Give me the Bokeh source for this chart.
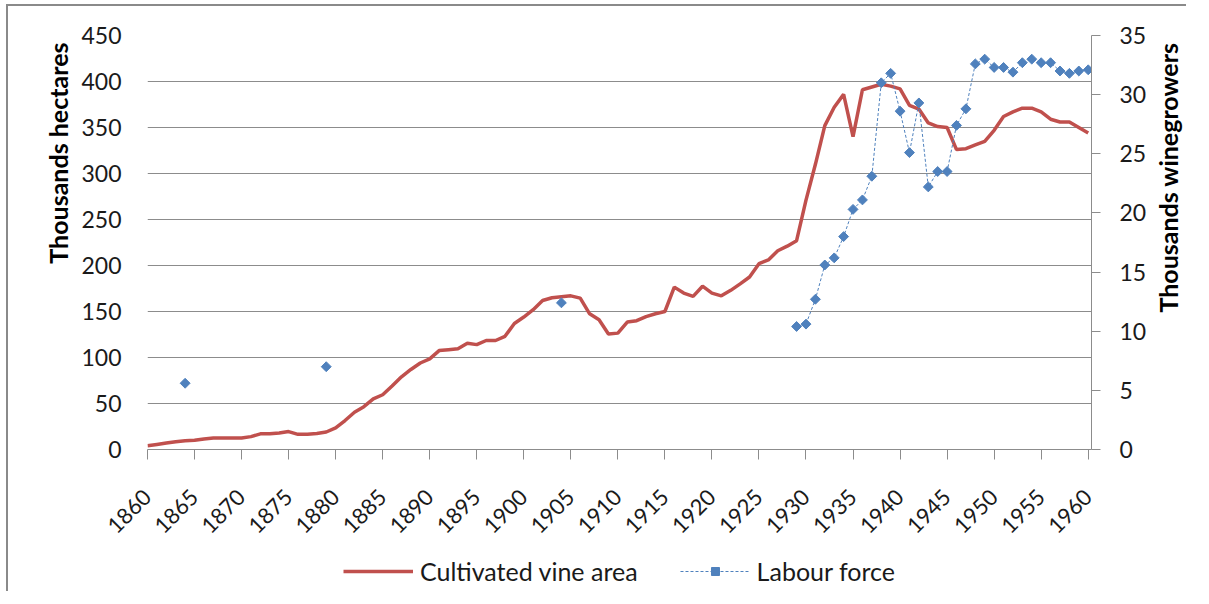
import math
from bokeh.plotting import figure
from bokeh.layouts import row, column
from bokeh.models import (Range1d, LinearAxis, FixedTicker, Legend, LegendItem, Title)
from bokeh.embed import file_html
from bokeh.resources import INLINE

# ---------------- data ----------------
years = list(range(1860, 1961))

vine_area = [
    4, 5.5, 7, 8.5, 9.5, 10, 11.5, 12.5, 12.5, 12.5,            # 1860-1869
    12.5, 14, 17, 17, 18, 19.5, 16.5, 16.5, 17.5, 19,           # 1870-1879
    23.5, 31.5, 40.5, 46.5, 55, 59.5, 69, 79, 87, 94,           # 1880-1889
    98.5, 107.5, 108.5, 109.5, 115.5, 114, 118.5, 118.5, 123, 137,  # 1890-1899
    144, 152, 162, 165, 166, 167, 164.5, 147.5, 141, 125.5,     # 1900-1909
    126.5, 138.5, 140, 144.5, 147.5, 150, 176.5, 170, 166.5, 177.5,  # 1910-1919
    170, 167, 173, 180, 187.5, 202, 206, 216, 221, 227,         # 1920-1929
    271, 310, 352, 372, 386, 340, 391, 394, 397, 395,           # 1930-1939
    392, 374, 370, 355, 351, 350, 326, 327, 331, 335,           # 1940-1949
    347, 362, 367, 371, 371, 367, 359, 356, 356, 350,           # 1950-1959
    344,                                                        # 1960
]

labour_years = [1864, 1879, 1904] + list(range(1929, 1961))
labour_force = [
    5.6, 7.0, 12.4,
    10.4, 10.6, 12.7, 15.6, 16.2, 18.0, 20.3, 21.1, 23.1, 31.0,   # 1929-1938
    31.8, 28.6, 25.1, 29.3, 22.2, 23.5, 23.5, 27.4, 28.8, 32.6,   # 1939-1948
    33.0, 32.3, 32.3, 31.9, 32.7, 33.0, 32.7, 32.7, 32.0, 31.8,   # 1949-1958
    32.0, 32.1,                                                   # 1959-1960
]

x_ticks = list(range(1860, 1961, 5))
left_ticks = list(range(0, 451, 50))
right_ticks = list(range(0, 36, 5))

left_title = "Thousands hectares"
right_title = "Thousands winegrowers"
series_names = ["Cultivated vine area", "Labour force"]

# line series with breaks where years are missing
lab_map = dict(zip(labour_years, labour_force))
lab_line = [lab_map.get(y, float("nan")) for y in years]

RED = "#C0504D"
BLUE = "#4F81BD"
GRID = "#8C8C8C"
FONT = "Lato"
TXT = "#1a1a1a"
BORDER = "2px solid #8a8a8a"

BL, BR, BT, BB = 139, 58, 29, 104
FW, FH = 944, 414

p = figure(width=BL + FW + BR, height=BT + FH + BB,
           x_range=Range1d(1860, 1960.35), y_range=Range1d(0, 450),
           output_backend="svg", toolbar_location=None, title=None,
           min_border_left=BL, min_border_right=BR,
           min_border_top=BT, min_border_bottom=BB)
p.extra_y_ranges = {"right": Range1d(0, 35)}
p.styles = {"border-top": BORDER, "border-left": BORDER,
            "margin-top": "4px", "margin-left": "6px"}
p.outline_line_color = None
p.background_fill_color = "white"
p.border_fill_color = "white"

red = p.line(years, vine_area, line_color=RED, line_width=3.5)
blue_line = p.line(years, lab_line, line_color=BLUE, line_width=1,
                   line_dash="3 2", y_range_name="right")
blue_pts = p.scatter(labour_years, labour_force, marker="square", angle=math.pi / 4,
                     size=7, fill_color=BLUE, line_color=BLUE,
                     y_range_name="right")

# x axis
xa = p.xaxis[0]
xa.ticker = FixedTicker(ticks=x_ticks)
xa.major_label_orientation = math.pi / 4
xa.axis_line_color = GRID
xa.major_tick_line_color = GRID
xa.major_tick_out = 10
xa.major_tick_in = 0
xa.minor_tick_line_color = None
xa.major_label_standoff = 34
xa.major_label_text_font = FONT
xa.major_label_text_font_size = "22px"
xa.major_label_text_color = TXT

# left axis
ya = p.yaxis[0]
ya.ticker = FixedTicker(ticks=left_ticks)
ya.axis_line_color = None
ya.major_tick_line_color = None
ya.minor_tick_line_color = None
ya.major_label_standoff = 20
ya.major_label_text_font = FONT
ya.major_label_text_font_size = "23px"
ya.major_label_text_color = TXT

# left title (reads bottom to top, top aligned)
p.add_layout(Title(text=left_title, align="right", offset=7, standoff=12,
                   text_font=FONT, text_font_style="bold",
                   text_font_size="25px", text_color="#000000"), "left")

# right axis
ra = LinearAxis(y_range_name="right", ticker=FixedTicker(ticks=right_ticks))
ra.axis_line_color = GRID
ra.major_tick_line_color = GRID
ra.major_tick_out = 9
ra.major_tick_in = 0
ra.minor_tick_line_color = None
ra.major_label_standoff = 19
ra.major_label_text_font = FONT
ra.major_label_text_font_size = "23px"
ra.major_label_text_color = TXT
p.add_layout(ra, "right")

p.xgrid.visible = False
p.ygrid.ticker = FixedTicker(ticks=left_ticks)
p.ygrid.grid_line_color = GRID
p.ygrid.grid_line_width = 1

# narrow companion panel carrying the right-hand title (reads bottom to top)
TL = 38
tp = figure(width=TL + 1, height=BT + FH + BB, title=None,
            x_axis_type=None, y_axis_type=None,
            output_backend="svg", toolbar_location=None,
            min_border_left=TL, min_border_right=0,
            min_border_top=BT, min_border_bottom=BB)
tp.styles = {"border-top": BORDER, "margin-top": "4px"}
tp.outline_line_color = None
tp.grid.visible = False
tp.border_fill_color = "white"
tp.background_fill_color = "white"
tp.add_layout(Title(text=right_title, align="right", offset=7, standoff=5,
                    text_font=FONT, text_font_style="bold",
                    text_font_size="25px", text_color="#000000"), "left")

# legend strip below the chart, its frame aligned with the chart's frame;
# key renderers carry the same series but lie outside this strip's view
lf = figure(width=BL + FW + BR, height=40, title=None,
            x_range=Range1d(0, 1), y_range=Range1d(0, 1),
            x_axis_type=None, y_axis_type=None,
            output_backend="svg", toolbar_location=None,
            min_border_left=BL, min_border_right=BR,
            min_border_top=0, min_border_bottom=0)
lf.styles = {"border-left": BORDER, "margin-left": "6px"}
lf.outline_line_color = None
lf.grid.visible = False
lf.border_fill_color = "white"
lf.background_fill_color = "white"
key_red = lf.line(years, vine_area, line_color=RED, line_width=3.5)
key_blue_line = lf.line(years, lab_line, line_color=BLUE, line_width=1, line_dash="3 2")
key_blue_pts = lf.scatter(labour_years, labour_force, marker="square",
                          angle=math.pi / 4, size=7,
                          fill_color=BLUE, line_color=BLUE)

legend = Legend(items=[
    LegendItem(label=series_names[0], renderers=[key_red]),
    LegendItem(label=series_names[1], renderers=[key_blue_line, key_blue_pts]),
], orientation="horizontal", location="center")
legend.glyph_width = 70
legend.glyph_height = 20
legend.label_standoff = 7
legend.spacing = 42
legend.padding = 0
legend.margin = 0
legend.border_line_color = None
legend.background_fill_alpha = 0
legend.label_text_font = FONT
legend.label_text_font_size = "25px"
legend.label_text_color = TXT
lf.add_layout(legend, "center")

layout = column(row(p, tp, spacing=0), lf, spacing=0)
open("out.html", "w").write(file_html(layout, INLINE))
